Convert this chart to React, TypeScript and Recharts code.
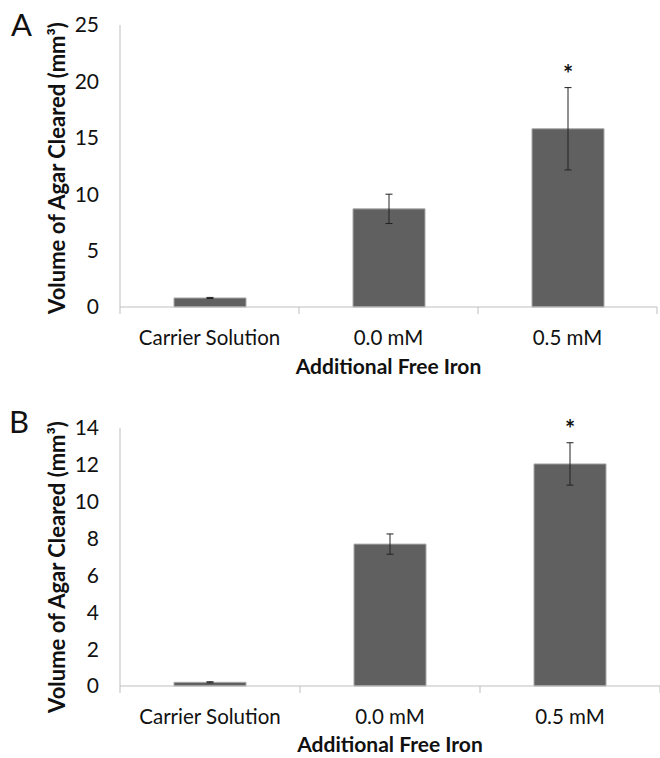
import { BarChart, Bar, XAxis, YAxis, ErrorBar, LabelList, Label } from "recharts";

const categories = ["Carrier Solution", "0.0 mM", "0.5 mM"];
const valuesA = [0.8, 8.7, 15.8];
const errorsA = [0.05, 1.3, 3.65];
const valuesB = [0.2, 7.7, 12.05];
const errorsB = [0.03, 0.55, 1.15];
const marks = ["", "", "*"];
const ticksA = [0, 5, 10, 15, 20, 25];
const ticksB = [0, 2, 4, 6, 8, 10, 12, 14];
// category centres sit on the halves, category edges on the integers
const xTicks = [0, 0.5, 1, 1.5, 2, 2.5, 3];

const font = "Lato, sans-serif";
const axisColor = "#bfbfbf";

function buildRows(values: number[], errors: number[]) {
  return categories.map((name, i) => ({
    name,
    pos: i + 0.5,
    value: values[i],
    err: errors[i],
    mark: marks[i],
  }));
}

function CategoryTick(props: any) {
  const { x, y, payload } = props;
  const v = payload.value as number;
  if (Number.isInteger(v)) {
    return <line x1={x} y1={y} x2={x} y2={y + 7} stroke={axisColor} />;
  }
  return (
    <text x={x} y={y + 30} textAnchor="middle" dominantBaseline="central" fontSize={20.5} fill="#111" fontFamily={font}>
      {categories[Math.floor(v)]}
    </text>
  );
}

function starContent(values: number[], errors: number[]) {
  return (p: any) => {
    const i = p.index;
    if (i == null || !marks[i]) return null;
    const pxPerUnit = Math.abs(p.height) / values[i];
    const top = p.y - errors[i] * pxPerUnit;
    return (
      <text x={p.x + p.width / 2} y={top - 5} textAnchor="middle" fontSize={24} fontWeight={700} fill="#111" fontFamily={font}>
        {marks[i]}
      </text>
    );
  };
}

function yTitle(shift: number) {
  return (p: any) => {
    const vb = p.viewBox;
    const cx = 56;
    const cy = vb.y + vb.height / 2 + shift;
    return (
      <text x={cx} y={cy} transform={`rotate(-90 ${cx} ${cy})`} textAnchor="middle" dominantBaseline="central" fontSize={22} fontWeight={700} fill="#111" fontFamily={font}>
        Volume of Agar Cleared (mm³)
      </text>
    );
  };
}

interface PanelProps {
  values: number[];
  errors: number[];
  ticks: number[];
  height: number;
  top: number;
  right: number;
  axisHeight: number;
  titleShift: number;
}

function Panel({ values, errors, ticks, height, top, right, axisHeight, titleShift }: PanelProps) {
  const rows = buildRows(values, errors);
  const max = ticks[ticks.length - 1];
  return (
    <BarChart width={660} height={height} data={rows} margin={{ top, right, left: 0, bottom: 0 }}>
      <XAxis
        dataKey="pos"
        type="number"
        domain={[0, 3]}
        ticks={xTicks}
        interval={0}
        tickSize={0}
        tickMargin={0}
        tickLine={false}
        stroke={axisColor}
        tick={<CategoryTick />}
        height={axisHeight}
      >
        <Label
          value="Additional Free Iron"
          position="insideBottom"
          offset={6}
          style={{ fontSize: 21, fontWeight: 700, fill: "#111", fontFamily: font }}
        />
      </XAxis>
      <YAxis
        width={120}
        domain={[0, max]}
        ticks={ticks}
        interval={0}
        tickLine={false}
        tickSize={6}
        tickMargin={15}
        stroke={axisColor}
        tick={{ fontSize: 21, fill: "#111", fontFamily: font }}
      >
        <Label content={yTitle(titleShift)} />
      </YAxis>
      <Bar dataKey="value" barSize={72} fill="#606060" stroke="#a8a8a8" strokeWidth={1} isAnimationActive={false}>
        <ErrorBar dataKey="err" width={3.5} stroke="#222" strokeWidth={1} direction="y" />
        <LabelList dataKey="mark" content={starContent(values, errors)} />
      </Bar>
    </BarChart>
  );
}

const letterStyle: React.CSSProperties = {
  position: "absolute",
  fontFamily: font,
  fontSize: 31,
  color: "#111",
  lineHeight: 1,
};

export default function App() {
  return (
    <div style={{ position: "absolute", left: 0, top: 0, width: 660, height: 758, background: "#fff" }}>
      <div style={{ position: "absolute", left: 0, top: 0 }}>
        <Panel values={valuesA} errors={errorsA} ticks={ticksA} height={380} top={25} right={3} axisHeight={73} titleShift={2} />
      </div>
      <div style={{ position: "absolute", left: 0, top: 380 }}>
        <Panel values={valuesB} errors={errorsB} ticks={ticksB} height={378} top={48} right={0} axisHeight={72} titleShift={10} />
      </div>
      <div style={{ ...letterStyle, left: 11, top: 9 }}>A</div>
      <div style={{ ...letterStyle, left: 9, top: 406 }}>B</div>
    </div>
  );
}
